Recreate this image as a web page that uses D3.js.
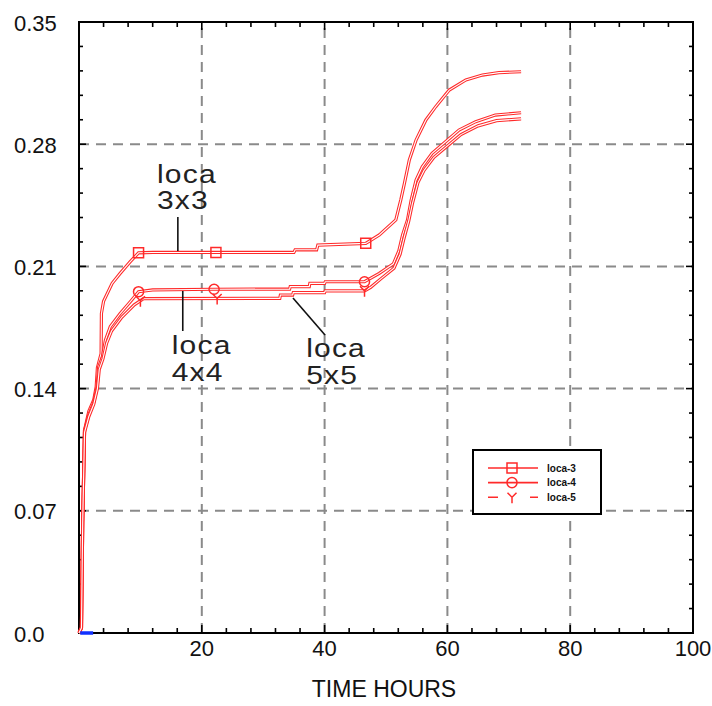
<!DOCTYPE html>
<html>
<head>
<meta charset="utf-8">
<script src="https://cdn.jsdelivr.net/npm/d3@7"></script>
<style>
  body { margin: 0; background: #fff; }
  svg { display: block; }
  text { font-family: "Liberation Sans", Arial, Helvetica, sans-serif; }
</style>
</head>
<body>
<svg id="chart" width="712" height="706"></svg>
<script>
// ---- data ------------------------------------------------------------
const xTickValues = [20, 40, 60, 80, 100];
const xTickLabels = ["20", "40", "60", "80", "100"];
const yTickValues = [0, 0.07, 0.14, 0.21, 0.28, 0.35];
const yTickLabels = ["0.0", "0.07", "0.14", "0.21", "0.28", "0.35"];
const xTitle = "TIME HOURS";
const seriesNames = ["loca-3", "loca-4", "loca-5"];

// [time (hours), value]
const loca3 = [
  [0, 0], [0.4, 0.003], [0.6, 0.063], [0.9, 0.116], [1.6, 0.127], [2.4, 0.1335],
  [2.8, 0.141], [3.0, 0.152], [3.6, 0.16], [3.65, 0.183], [4.0, 0.19],
  [5.4, 0.2003], [6.7, 0.206], [8.35, 0.2127], [9.7, 0.2178], [12, 0.218],
  [35, 0.218], [35.2, 0.2195], [38.7, 0.2195], [38.9, 0.2222], [46.7, 0.2232],
  [48.9, 0.228], [51.6, 0.2366], [52.4, 0.248], [53, 0.2576], [53.8, 0.271],
  [54.9, 0.2824], [56.5, 0.2939], [58.1, 0.3015], [60.3, 0.311], [63, 0.3168],
  [65.7, 0.3196], [68.4, 0.321], [72, 0.3215]
];
const loca4 = [
  [0, 0], [0.4, 0.003], [0.6, 0.063], [0.9, 0.116], [1.6, 0.125], [2.4, 0.132],
  [2.95, 0.141], [3.2, 0.1525], [3.8, 0.158], [4.3, 0.1678], [5.1, 0.1755],
  [6.7, 0.183], [8.6, 0.1908], [9.7, 0.1955], [12, 0.1965], [22, 0.1969],
  [34.3, 0.197], [34.4, 0.1984], [37.5, 0.1984], [37.6, 0.2003], [40, 0.2003],
  [40.1, 0.2012], [46.5, 0.2012], [48.9, 0.206], [51.2, 0.2115], [52.1, 0.219],
  [52.7, 0.228], [53.5, 0.2366], [54.1, 0.248], [54.9, 0.2595], [55.9, 0.267],
  [57.5, 0.2748], [59.7, 0.2814], [61.9, 0.2881], [64.6, 0.2929], [67.8, 0.2967],
  [72, 0.298]
];
const loca5 = [
  [0, 0], [0.4, 0.003], [0.6, 0.063], [0.9, 0.115], [1.6, 0.124], [2.4, 0.131],
  [3.0, 0.14], [3.3, 0.151], [3.9, 0.157], [4.5, 0.166], [5.3, 0.173],
  [7, 0.181], [9, 0.188], [10.5, 0.1915], [32.7, 0.1917], [32.8, 0.1936],
  [34.8, 0.1936], [34.9, 0.195], [40, 0.195], [40.1, 0.196], [46.5, 0.196],
  [47.5, 0.198], [49.2, 0.203], [51.3, 0.209], [52.3, 0.217], [53, 0.227],
  [53.7, 0.236], [54.3, 0.246], [55.2, 0.258], [56.2, 0.265], [57.8, 0.2725],
  [60, 0.279], [62.2, 0.2855], [65, 0.2905], [68, 0.2935], [72, 0.2945]
];
// a short zero trace right at the start
const baseTrace = [[0.2, 0], [2.3, 0]];

// times at which each series carries a marker
const markerTimes3 = [9.7, 22.3, 46.7];
const markerTimes4 = [9.7, 22, 46.5];
const markerTimes5 = [10, 22.5, 46.5];

// callout labels: text lines, text anchor point, leader line (all in data units)
const callouts = [
  { lines: ["loca", "3x3"], at: [12.7, 0.2578], leader: [[16.1, 0.2383], [16.1, 0.2188]] },
  { lines: ["loca", "4x4"], at: [15.1, 0.1598], leader: [[16.9, 0.1959], [16.9, 0.173]] },
  { lines: ["loca", "5x5"], at: [37.0, 0.1581], leader: [[34.85, 0.1919], [40.07, 0.1707]] }
];

// ---- layout ----------------------------------------------------------
const svg = d3.select("#chart");
const plot = { left: 79, right: 693, top: 22, bottom: 633 };
const x = d3.scaleLinear().domain([0, 100]).range([plot.left, plot.right]);
const y = d3.scaleLinear().domain([0, 0.35]).range([plot.bottom, plot.top]);
const red = "#ff2a2a";

// grid
const grid = svg.append("g").attr("stroke", "#8a8a8a").attr("stroke-width", 2)
  .attr("stroke-dasharray", "10,7");
grid.selectAll("line.gx").data(xTickValues.filter(v => v < 100)).join("line")
  .attr("x1", d => x(d)).attr("x2", d => x(d))
  .attr("y1", plot.bottom).attr("y2", plot.top);
grid.selectAll("line.gy").data(yTickValues.filter(v => v > 0 && v < 0.35)).join("line")
  .attr("y1", d => y(d)).attr("y2", d => y(d))
  .attr("x1", plot.left).attr("x2", plot.right);

// frame
svg.append("rect")
  .attr("x", plot.left).attr("y", plot.top)
  .attr("width", plot.right - plot.left).attr("height", plot.bottom - plot.top)
  .attr("fill", "none").attr("stroke", "#000").attr("stroke-width", 2);

// inward ticks on all four sides
const xMinor = d3.range(0, 100.001, 4);
const yMinor = d3.range(0, 0.3501, 0.014);
const isMajorX = v => Math.abs(v / 20 - Math.round(v / 20)) < 1e-6;
const isMajorY = v => Math.abs(v / 0.07 - Math.round(v / 0.07)) < 1e-6;
const ticks = svg.append("g").attr("stroke", "#000").attr("stroke-width", 1.6);
xMinor.forEach(v => {
  const len = isMajorX(v) ? 8 : 5;
  ticks.append("line").attr("x1", x(v)).attr("x2", x(v))
    .attr("y1", plot.bottom).attr("y2", plot.bottom - len);
  ticks.append("line").attr("x1", x(v)).attr("x2", x(v))
    .attr("y1", plot.top).attr("y2", plot.top + len);
});
yMinor.forEach(v => {
  const len = isMajorY(v) ? 7 : 4;
  ticks.append("line").attr("y1", y(v)).attr("y2", y(v))
    .attr("x1", plot.left).attr("x2", plot.left + len);
  ticks.append("line").attr("y1", y(v)).attr("y2", y(v))
    .attr("x1", plot.right).attr("x2", plot.right - len);
});

// tick labels
svg.append("g").selectAll("text").data(xTickValues).join("text")
  .attr("x", d => x(d)).attr("y", plot.bottom + 23)
  .attr("text-anchor", "middle").attr("font-size", 22).attr("fill", "#111")
  .text((d, i) => xTickLabels[i]);
svg.append("g").selectAll("text").data(yTickValues).join("text")
  .attr("x", 14).attr("y", d => y(d) + 8.5)
  .attr("text-anchor", "start").attr("font-size", 22).attr("fill", "#111")
  .text((d, i) => yTickLabels[i]);
svg.append("text")
  .attr("x", (plot.left + plot.right) / 2 - 2).attr("y", 697)
  .attr("text-anchor", "middle").attr("font-size", 23).attr("fill", "#111")
  .text(xTitle);

// series
const line = d3.line().x(d => x(d[0])).y(d => y(d[1]));
const interp = (data, t) => {
  const i = d3.bisector(d => d[0]).right(data, t);
  const a = data[Math.max(0, i - 1)], b = data[Math.min(data.length - 1, i)];
  if (b[0] === a[0]) return a[1];
  return a[1] + (b[1] - a[1]) * (t - a[0]) / (b[0] - a[0]);
};

const markerPath = {
  square: "M-5,-5H5V5H-5Z",
  circle: d3.symbol().type(d3.symbolCircle).size(80)(),
  wye: "M-4.5,-4.5L0,0L4.5,-4.5M0,0V6"
};

const series = [
  { name: seriesNames[0], data: loca3, marks: markerTimes3, shape: "square", dash: null },
  { name: seriesNames[1], data: loca4, marks: markerTimes4, shape: "circle", dash: null },
  { name: seriesNames[2], data: loca5, marks: markerTimes5, shape: "wye", dash: "10,32,8" }
];

const curves = svg.append("g");
series.forEach(s => {
  const g = curves.append("g");
  g.append("path").attr("d", line(s.data))
    .attr("fill", "none").attr("stroke", red).attr("stroke-width", 3.2)
    .attr("stroke-linejoin", "miter");
  g.append("path").attr("d", line(s.data))
    .attr("fill", "none").attr("stroke", "#fff").attr("stroke-width", 1.1);
  g.selectAll("path.m").data(s.marks).join("path")
    .attr("transform", t => `translate(${x(t)},${y(interp(s.data, t))})`)
    .attr("d", markerPath[s.shape])
    .attr("fill", "none").attr("stroke", red).attr("stroke-width", 1.5);
});

svg.append("path").attr("d", line(baseTrace))
  .attr("fill", "none").attr("stroke", "#1030ff").attr("stroke-width", 3.5);

// callouts
const callG = svg.append("g");
callouts.forEach(c => {
  callG.append("line")
    .attr("x1", x(c.leader[0][0])).attr("y1", y(c.leader[0][1]))
    .attr("x2", x(c.leader[1][0])).attr("y2", y(c.leader[1][1]))
    .attr("stroke", "#111").attr("stroke-width", 1.6);
  c.lines.forEach((txt, i) => {
    callG.append("text")
      .attr("transform", `translate(${x(c.at[0])},${y(c.at[1]) + i * 26.5}) scale(1.2,1)`)
      .attr("font-size", 25).attr("letter-spacing", 1).attr("fill", "#222")
      .text(txt);
  });
});

// legend
const lg = svg.append("g");
lg.append("rect").attr("x", 473).attr("y", 450).attr("width", 128).attr("height", 64)
  .attr("fill", "#fff").attr("stroke", "#000").attr("stroke-width", 2);
series.forEach((s, i) => {
  const yy = 468 + i * 14.6;
  lg.append("line").attr("x1", 488).attr("x2", 538).attr("y1", yy).attr("y2", yy)
    .attr("stroke", red).attr("stroke-width", 1.6)
    .attr("stroke-dasharray", s.dash);
  lg.append("path").attr("transform", `translate(512,${yy})`)
    .attr("d", markerPath[s.shape])
    .attr("fill", "none").attr("stroke", red).attr("stroke-width", 1.5);
  lg.append("text").attr("x", 547).attr("y", yy + 3.5)
    .attr("font-size", 10).attr("font-weight", "bold").attr("fill", "#111")
    .text(s.name);
});
</script>
</body>
</html>
